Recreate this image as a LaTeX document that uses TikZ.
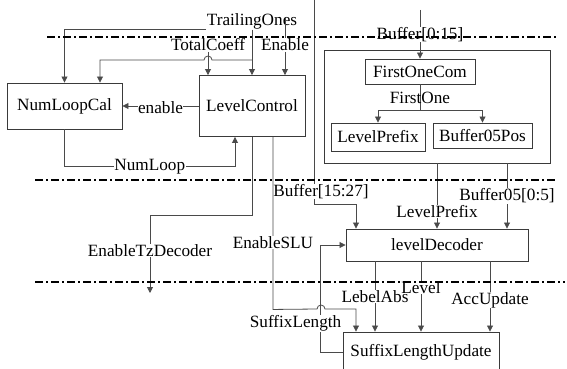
\documentclass[tikz,border=0pt]{standalone}
\usepackage{fontspec}
\setmainfont{Liberation Serif}
\usetikzlibrary{arrows.meta}
\definecolor{wireg}{HTML}{4A4A4A}
\definecolor{boxg}{HTML}{3A3A3A}

\begin{document}
\begin{tikzpicture}[x=1pt,y=-1pt,
  font=\fontsize{17.2}{20}\selectfont,
  blk/.style={draw=boxg,line width=0.9pt,inner sep=0pt},
  wire/.style={draw=wireg,line width=0.8pt},
  arr/.style={wire,-{Triangle[length=6pt,width=6pt]}},
  lbl/.style={fill=white,inner sep=0.5pt},
  sep/.style={line width=1.6pt,dash pattern=on 8pt off 3pt on 2pt off 3pt}]
  \useasboundingbox (0,0) rectangle (567,369);

  \node[blk,minimum width=115pt,minimum height=46pt] (numloopcal) at (64.5,106) {NumLoopCal};
  \node[blk,minimum width=106pt,minimum height=61pt] (levelcontrol) at (252,106) {LevelControl};
  \node[blk,minimum width=226pt,minimum height=113pt] (fobox) at (437,106.5) {};
  \node[blk,minimum width=110pt,minimum height=25pt] (firstonecom) at (420,71.5) {FirstOneCom};
  \node[blk,minimum width=94pt,minimum height=28pt] (levelprefix) at (378,137) {LevelPrefix};
  \node[blk,minimum width=99pt,minimum height=25pt] (buffer05pos) at (482.5,135.5) {Buffer05Pos};
  \node[blk,minimum width=182pt,minimum height=32pt] (leveldecoder) at (437,245) {levelDecoder};
  \node[blk,minimum width=156pt,minimum height=40pt] (suffixupdate) at (421,352) {SuffixLengthUpdate};

  \node[lbl] (trailing) at (252,21) {TrailingOnes};
  \node[lbl] (totalcoeff) at (208,45) {TotalCoeff};
  \node[lbl] (enable) at (285,45) {Enable};
  \coordinate (enin) at (285,18);
  \coordinate (tjoin) at (252,60);
  \coordinate (tzout) at (150,293);
  \coordinate (bufhi) at (314,0);
  \coordinate (buflo) at (420,10);

  \draw[arr] (trailing.south west) -| (numloopcal.north);
  \draw[arr] (trailing) -- (trailing |- levelcontrol.north);
  \draw[arr] (totalcoeff) -- (totalcoeff |- levelcontrol.north);
  \draw[wire] (enin) -- (enable);
  \draw[arr] (enable) -- (enable |- levelcontrol.north);
  \draw[arr] (tjoin) -- (212,60) arc[start angle=0,end angle=-180,radius=4] -- (100,60) -- ([xshift=35.5pt]numloopcal.north);
  \draw[arr] (levelcontrol) -- node[lbl,yshift=-2pt]{enable} (numloopcal);
  \draw[arr] (numloopcal.south) -- ++(0,37) -| node[lbl,pos=0.25]{NumLoop} ([xshift=-17pt]levelcontrol.south);
  \draw[arr] (levelcontrol.south) -- ++(0,78) -| node[lbl,pos=0.73]{EnableTzDecoder} (tzout);

  \draw[arr] (bufhi) -- node[lbl,pos=0.94,xshift=7pt]{Buffer[15:27]} ++(0,204) -| ([xshift=-81pt]leveldecoder.north);
  \draw[arr] ([xshift=21pt]levelcontrol.south) -- node[lbl,pos=0.61]{EnableSLU} ++(0,172.5) -- (317,309) arc[start angle=180,end angle=360,radius=4] -- (356,309) -- ([xshift=-65pt]suffixupdate.north);

  \draw[arr] (buflo) -- node[lbl,pos=0.51]{Buffer[0:15]} (firstonecom.north);
  \draw[wire] (firstonecom.south) -- node[inner sep=0pt]{FirstOne} ++(0,26) coordinate (fosplit);
  \draw[arr] (fosplit) -| (levelprefix.north);
  \draw[arr] (fosplit) -| (buffer05pos.north);

  \draw[arr] (fobox.south) -- node[lbl,pos=0.74]{LevelPrefix} (leveldecoder.north);
  \draw[arr] ([xshift=70pt]fobox.south) -- node[lbl,pos=0.5]{Buffer05[0:5]} ([xshift=70pt]leveldecoder.north);

  \draw[arr] ([xshift=-62pt]leveldecoder.south) -- node[lbl]{LebelAbs} ([xshift=-46pt]suffixupdate.north);
  \draw[arr] (leveldecoder.south -| suffixupdate.north) -- node[lbl,pos=0.37]{Level} (suffixupdate.north);
  \draw[arr] ([xshift=53pt]leveldecoder.south) -- node[lbl,pos=0.55]{AccUpdate} ([xshift=69pt]suffixupdate.north);
  \draw[arr] (suffixupdate.west) -- ++(-22,0) coordinate (slcorner) -- node[lbl,pos=0.27,xshift=-25pt]{SuffixLength} (slcorner |- leveldecoder.west) -- (leveldecoder.west);

  \draw[sep] (47,37) -- (557,37);
  \draw[sep] (35,180) -- (557,180);
  \draw[sep] (35,282) -- (565,282);
\end{tikzpicture}
\end{document}
